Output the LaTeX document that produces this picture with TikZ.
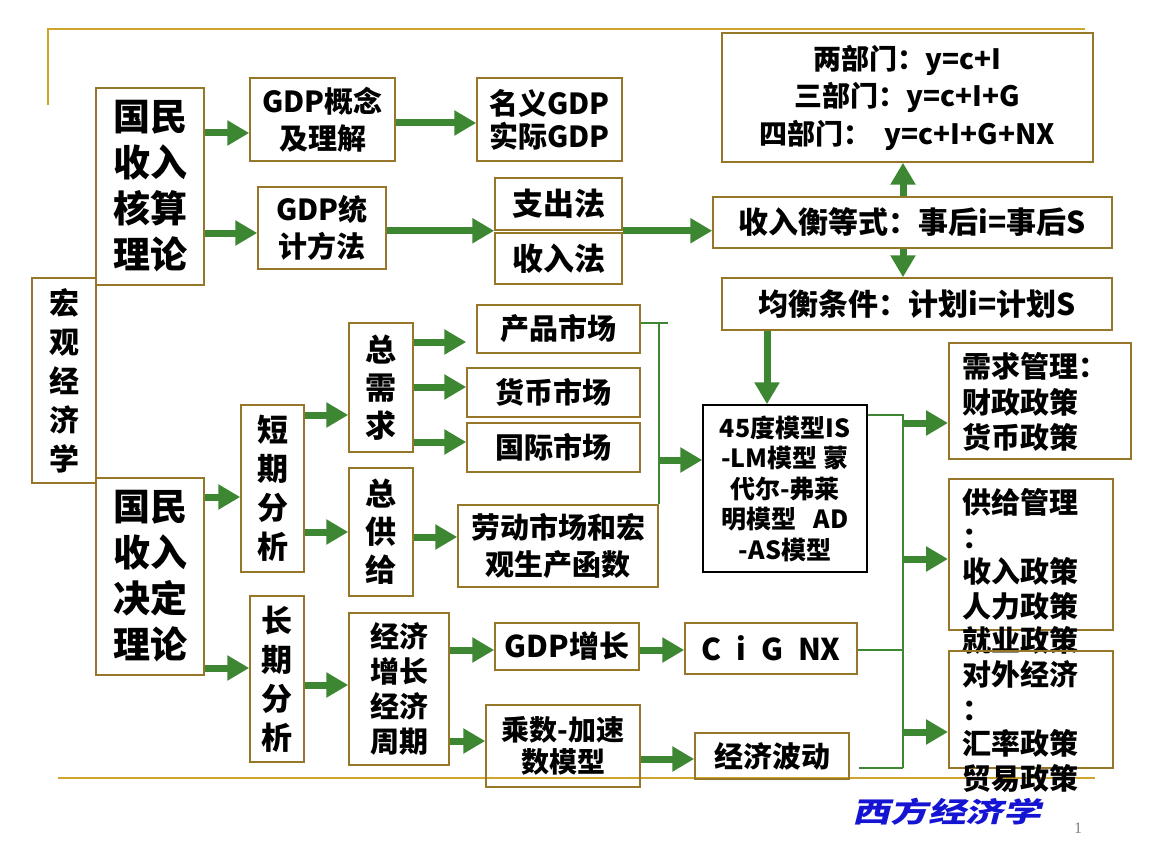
\documentclass[tikz,border=0pt]{standalone}
\usepackage{fontspec}
\setmainfont{Noto Sans CJK SC}
\newfontfamily\footfont{Noto Sans CJK SC}[FakeSlant=0.25,FakeStretch=1.35]
\newfontfamily\pagefont{Liberation Serif}
\usetikzlibrary{arrows.meta}
\definecolor{boxc}{RGB}{150,118,40}
\definecolor{decoc}{RGB}{205,165,45}
\definecolor{arrc}{RGB}{62,135,50}
\definecolor{footc}{RGB}{20,20,210}
\tikzset{
  box/.style={draw=boxc,line width=1.5pt,inner sep=0pt,align=center},
  sz/.style 2 args={minimum width=#1pt,minimum height=#2pt},
  fA/.style={font=\bfseries\fontsize{37}{46}\selectfont},
  fB/.style={font=\bfseries\fontsize{31}{39}\selectfont},
  fC/.style={font=\bfseries\fontsize{29}{37}\selectfont},
  fD/.style={font=\bfseries\fontsize{25}{30.5}\selectfont},
  policy/.style={draw=boxc,line width=1.5pt,anchor=north west,inner xsep=14pt,
    inner ysep=10pt,font=\bfseries\fontsize{29}{34.5}\selectfont},
  garrow/.style={draw=arrc,line width=7pt,-{Triangle[length=22pt,width=24pt]}},
  link/.style={draw=arrc,line width=1.5pt},
  deco/.style={draw=decoc,line width=2.5pt}
}

\begin{document}
\begin{tikzpicture}[x=1pt,y=-1pt]
  \useasboundingbox (0,0) rectangle (1152,864);

  % slide frame lines
  \draw[deco] (48,105) -- (48,29) -- (1085,29);
  \draw[deco] (58,778) -- (1095,778);

  % left column
  \node[box,sz={64}{205},font=\bfseries\fontsize{30}{39}\selectfont] (macro) at (64,380.5) {宏\\观\\经\\济\\学};
  \node[box,sz={108}{197},fA] (nhs) at (150,186.5) {国民\\收入\\核算\\理论};
  \node[box,sz={108}{197},fA] (nhd) at (150,576.5) {国民\\收入\\决定\\理论};

  % national income accounting
  \node[box,sz={145}{83},fC] (gdpc) at (322.5,119.5) {GDP概念\\及理解};
  \node[box,sz={145}{83},font=\bfseries\fontsize{29}{33}\selectfont] (gdpn) at (549.5,119.5) {名义GDP\\实际GDP};
  \node[box,sz={128}{82},fC] (gdps) at (322,228) {GDP统\\计方法};
  \node[box,sz={127}{52},font=\bfseries\fontsize{31}{31}\selectfont] (zhc) at (558.5,204) {支出法};
  \node[box,sz={127}{51},font=\bfseries\fontsize{31}{31}\selectfont] (srf) at (558.5,258.5) {收入法};
  \node[box,sz={371}{129},font=\bfseries\fontsize{28}{37.5}\selectfont] (sector) at (907.5,97.5)
    {两部门：y=c+I\\三部门：y=c+I+G\\四部门：\ \ y=c+I+G+NX};
  \node[box,sz={399}{51},font=\bfseries\fontsize{30}{30}\selectfont] (ident) at (912.5,222.5) {收入衡等式：事后i=事后S};
  \node[box,sz={390}{52},font=\bfseries\fontsize{30}{30}\selectfont] (equil) at (917,304) {均衡条件：计划i=计划S};

  % short run
  \node[box,sz={63}{167},fB] (dqfx) at (272.5,488.5) {短\\期\\分\\析};
  \node[box,sz={64}{129},font=\bfseries\fontsize{31}{38}\selectfont] (zxq) at (381,387.5) {总\\需\\求};
  \node[box,sz={64}{128},font=\bfseries\fontsize{31}{38}\selectfont] (zgj) at (381,532) {总\\供\\给};
  \node[box,sz={163}{48},fC] (cpsc) at (558.5,329) {产品市场};
  \node[box,sz={173}{49},fC] (hbsc) at (553.5,392.5) {货币市场};
  \node[box,sz={173}{49},fC] (gjsc) at (553.5,447.5) {国际市场};
  \node[box,sz={200}{82},fC] (ldsc) at (558,546) {劳动市场和宏\\观生产函数};
  \node[box,draw=black,sz={164}{167},fD] (model) at (785,488.5)
    {45度模型IS\\-LM模型 蒙\\代尔-弗莱\\明模型\ \ \ AD\\-AS模型};

  % long run
  \node[box,sz={54}{166},fB] (cqfx) at (277,679) {长\\期\\分\\析};
  \node[box,sz={100}{152},font=\bfseries\fontsize{29}{35}\selectfont] (jjzz) at (399,689) {经济\\增长\\经济\\周期};
  \node[box,sz={144}{47},font=\bfseries\fontsize{30}{30}\selectfont] (gdpz) at (567,646.5) {GDP增长};
  \node[box,sz={172}{51},font=\bfseries\fontsize{30}{30}\selectfont] (cign) at (771,648.5) {C\enspace i\enspace G\enspace NX};
  \node[box,sz={154}{82},font=\bfseries\fontsize{28}{32}\selectfont] (csjs) at (563,746) {乘数-加速\\数模型};
  \node[box,sz={154}{46},fC] (jjbd) at (772,756) {经济波动};

  % policy boxes
  \node[policy,font=\bfseries\fontsize{29}{35.5}\selectfont] (dmd) at (948,342)
    {\parbox[t][96pt][t]{154pt}{需求管理：\\财政政策\\货币政策}};
  \node[policy] (sup) at (948,478)
    {\parbox[t][131pt][t]{136pt}{供给管理\\：\\收入政策\\人力政策\\就业政策}};
  \node[policy] (frn) at (948,650)
    {\parbox[t][97pt][t]{136pt}{对外经济\\：\\汇率政策\\贸易政策}};

  % accounting arrows
  \draw[garrow] (nhs.east |- 0,133) -- (gdpc.west |- 0,133);
  \draw[garrow] (nhs.east |- 0,233) -- (gdps.west |- 0,233);
  \draw[garrow] (gdpc.east |- 0,123) -- (gdpn.west |- 0,123);
  \draw[garrow] (gdps.east |- zhc.south west) -- (zhc.south west);
  \draw[garrow] (zhc.south east) -- (ident.west |- zhc.south east);
  \draw[garrow] (ident.north -| 903,0) -- (sector.south -| 903,0);
  \draw[garrow] (ident.south -| 903,0) -- (equil.north -| 903,0);
  \draw[garrow] (equil.south -| 767,0) -- (model.north -| 767,0);

  % determination arrows
  \draw[garrow] (nhd.east |- 0,497) -- (dqfx.west |- 0,497);
  \draw[garrow] (nhd.east |- 0,668) -- (cqfx.west |- 0,668);
  \draw[garrow] (dqfx.east |- 0,415) -- (zxq.west |- 0,415);
  \draw[garrow] (dqfx.east |- 0,532) -- (zgj.west |- 0,532);
  \draw[garrow] (zxq.east |- 0,342) -- ([xshift=-10pt]cpsc.west |- 0,342);
  \draw[garrow] (zxq.east |- 0,387) -- (hbsc.west |- 0,387);
  \draw[garrow] (zxq.east |- 0,442) -- (gjsc.west |- 0,442);
  \draw[garrow] (zgj.east |- 0,537) -- (ldsc.west |- 0,537);
  \draw[link] (cpsc.east |- 0,323) -- ++(27,0);
  \draw[link] (ldsc.north east |- 0,323) -- (ldsc.north east);
  \draw[garrow] (ldsc.east |- 0,460) -- (model.west |- 0,460);

  \draw[garrow] (cqfx.east |- 0,685) -- (jjzz.west |- 0,685);
  \draw[garrow] (jjzz.east |- 0,650) -- (gdpz.west |- 0,650);
  \draw[garrow] (jjzz.east |- 0,741) -- (csjs.west |- 0,741);
  \draw[garrow] (gdpz.east |- 0,650) -- (cign.west |- 0,650);
  \draw[garrow] (csjs.east |- 0,759) -- (jjbd.west |- 0,759);

  % policy collector
  \coordinate (bus) at (903,415);
  \draw[link] (model.east |- bus) -- (bus) -- (903,768);
  \draw[link] (cign.east |- 0,650) -- (903,650);
  \draw[link] ([xshift=9pt]jjbd.east |- 0,768) -- (903,768);
  \draw[garrow] (903,423) -- (dmd.west |- 0,423);
  \draw[garrow] (903,559) -- (sup.west |- 0,559);
  \draw[garrow] (903,732) -- (frn.west |- 0,732);

  \node[font=\footfont\bfseries\fontsize{28}{28}\selectfont,text=footc] (foot) at (947,812) {西方经济学};
  \node[font=\pagefont\fontsize{16}{16}\selectfont,text=gray] (pg) at (1078,828) {1};
\end{tikzpicture}
\end{document}
